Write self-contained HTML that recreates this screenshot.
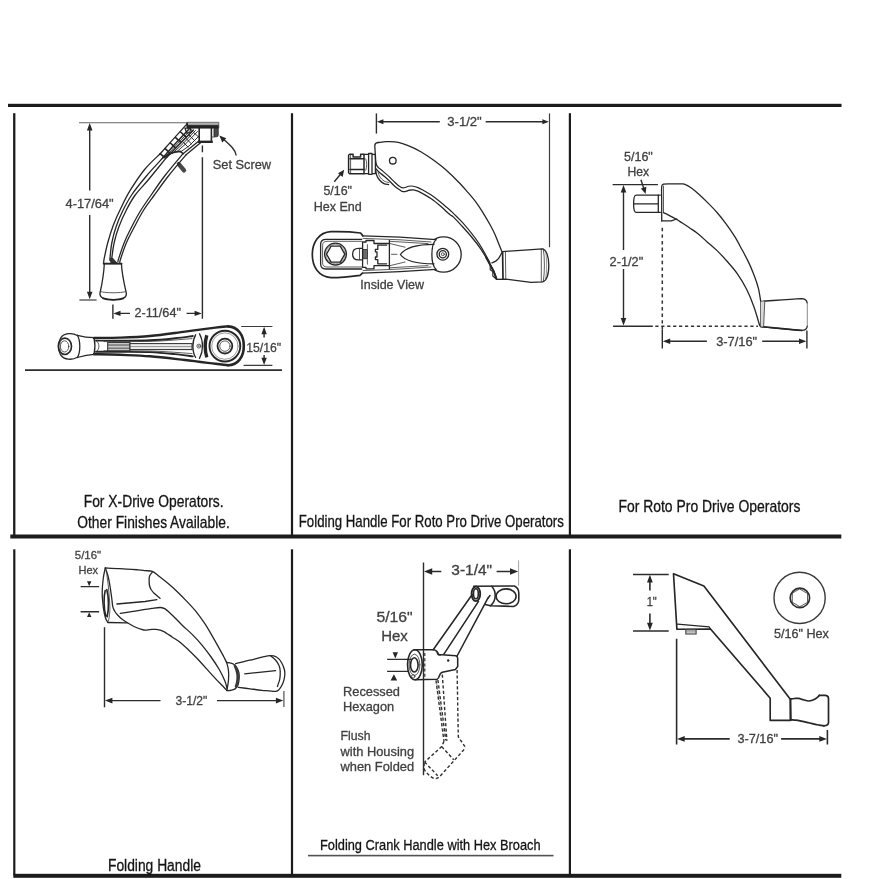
<!DOCTYPE html>
<html><head><meta charset="utf-8">
<style>
html,body{margin:0;padding:0;background:#fff;}
body{width:875px;height:879px;overflow:hidden;font-family:"Liberation Sans",sans-serif;}
svg{display:block;position:absolute;left:0;top:0;filter:blur(0.35px);}
text{font-family:"Liberation Sans",sans-serif;}
.t{fill:#414141;stroke:#414141;stroke-width:0.3px;}
.c{fill:#141414;stroke:#141414;stroke-width:0.3px;}
.d{stroke:#2c2c2c;stroke-width:1.4;fill:none;}
.e{stroke:#3c3c3c;stroke-width:1.2;fill:none;}
.o{stroke:#262626;stroke-width:1.3;fill:none;stroke-linejoin:round;stroke-linecap:round;}
.o2{stroke:#333;stroke-width:0.8;fill:none;stroke-linejoin:round;stroke-linecap:round;}
.o3{stroke:#555;stroke-width:0.6;fill:none;stroke-linejoin:round;stroke-linecap:round;}
.a{fill:#262626;stroke:none;}
#p5 .o{stroke-width:1.55;}
#p6 .d{stroke-width:1.6;}
.w{fill:#fff;}
</style></head>
<body>
<svg width="875" height="879" viewBox="0 0 875 879">
<!-- GRID -->
<g id="grid" fill="#1c1c1c">
<rect x="8" y="103.8" width="833.5" height="3.2"/>
<rect x="10.3" y="534.5" width="831" height="4"/>
<rect x="13.3" y="873.8" width="828" height="4"/>
<rect x="13.1" y="113.2" width="2.3" height="422"/>
<rect x="290.9" y="113.2" width="2.2" height="422"/>
<rect x="568.8" y="113.2" width="2.2" height="422"/>
<rect x="13.2" y="549.3" width="2.2" height="326"/>
<rect x="290.9" y="549.3" width="2.2" height="326"/>
<rect x="568.8" y="549.3" width="2.2" height="326"/>
</g>

<!-- CAPTIONS -->
<g id="captions">
<text class="c" font-size="16" transform="translate(83.7,506.6) scale(0.8652,1)">For X-Drive Operators.</text>
<text class="c" font-size="16" transform="translate(77.3,527.6) scale(0.8631,1)">Other Finishes Available.</text>
<text class="c" font-size="16" transform="translate(298.8,526.8) scale(0.8267,1)">Folding Handle For Roto Pro Drive Operators</text>
<text class="c" font-size="16" transform="translate(618.4,512.2) scale(0.8710,1)">For Roto Pro Drive Operators</text>
<text class="c" font-size="16" transform="translate(108,871.1) scale(0.8641,1)">Folding Handle</text>
<text class="c" font-size="15" transform="translate(320,850) scale(0.8543,1)">Folding Crank Handle with Hex Broach</text>
<rect x="308" y="854.8" width="245.5" height="1.6" fill="#525252"/>
</g>

<!-- P1: X-Drive handle -->
<g id="p1">
<!-- dims -->
<path class="e" d="M79 122.7 H186" style="stroke:#666;stroke-width:1.1"/>
<path class="e" d="M79.4 300 H96.6"/>
<path class="d" d="M89.7 128 V190.5 M89.7 215 V293"/>
<path class="a" d="M89.7 122.9 L92.5 130.5 H86.9 Z M89.7 299.3 L92.5 291.7 H86.9 Z"/>
<text class="t" font-size="13" transform="translate(65.5,207.6) scale(0.9894,1)">4-17/64"</text>
<path class="d" d="M202.4 145.4 V152.2 M202.4 157.3 V318.8"/>
<path class="d" d="M112.9 304.5 V318.8"/>
<path class="d" d="M118 313.4 H130 M186.6 313.4 H197"/>
<path class="a" d="M113.3 313.4 L120.5 310.7 V316.1 Z M201.8 313.4 L194.6 310.7 V316.1 Z"/>
<text class="t" font-size="13" transform="translate(134.4,317.1) scale(0.9759,1)">2-11/64"</text>
<!-- set screw label -->
<path class="d" d="M236.2 155.5 C235.5 149.5 230 145 221.5 137.5"/>
<path class="a" d="M219.3 135.6 L226.3 138.3 L222.3 142.5 Z"/>
<text class="t" font-size="13.4" transform="translate(212.7,168.5) scale(0.9569,1)">Set Screw</text>
<!-- hub -->
<defs><linearGradient id="pl" x1="0" y1="0" x2="0" y2="1"><stop offset="0" stop-color="#c8c8c8"/><stop offset="0.42" stop-color="#9a9a9a"/><stop offset="0.56" stop-color="#262626"/><stop offset="1" stop-color="#1c1c1c"/></linearGradient></defs>
<path d="M186.6 122.3 H218.8 V128.2 H187.2 Z" fill="url(#pl)" stroke="#3a3a3a" stroke-width="0.7"/>
<path d="M187 122.6 L187.6 127.6" stroke="#222" stroke-width="1.6" fill="none"/>
<path class="o" d="M199.2 128 V140.8 M211.4 128 V140.6" style="stroke-width:1.6"/>
<path d="M198 141.8 H212.8" stroke="#262626" stroke-width="2.4" fill="none"/>
<path d="M214 128.4 H218.2 V135 Q218.2 136.8 216.4 136.8 H214 Z" fill="#4a4a4a" stroke="#262626" stroke-width="0.9"/>
<path class="o2" d="M211.4 137 H214"/>
<!-- arm upper ribs -->
<path class="o" d="M186.6 124.4 L171 141.6 L160.2 153.7"/>
<path class="o" d="M190 128 L174.5 144.4 L162.9 157.8" style="stroke-width:1.5"/>
<path class="o" d="M193.4 130 L181 142.6 L166.6 157.4" style="stroke-width:1.5"/>
<path class="o" d="M191.6 129 L177.6 143.6 L164.8 157.6" style="stroke-width:0.9"/>
<path class="o" d="M164 157.4 C169 153.6 174.5 151.6 180.4 151.4 L183 153.7" style="stroke-width:1.6"/>
<path class="o" d="M185 128.2 H190.2 L191.4 132.4 L186.8 133.2 Z"/>
<path class="o" d="M180.6 132 L185.6 136.6 M175.6 137.6 L180.6 142.2 M170.4 143 L175.4 147.8 M165.2 148.6 L170.2 153.4 M160.2 153.7 L164.8 157.6" style="stroke-width:1.6"/>
<path class="o" d="M197.5 131.5 L185 144.5 L176.5 152 M195.4 130.6 L183 143.6 L172.5 153.4 M199 136 L189 146 L181 151.6" style="stroke-width:0.95"/>
<path class="o" d="M192 131 L198.6 137 M189 135 L195 141 M186 138.5 L191.6 144 M183 142 L188 147" style="stroke-width:0.95"/>
<path class="o" d="M199.2 140.8 L183 153.7 M200.8 142.6 L185.8 155.1"/>
<!-- small screw -->
<path d="M179.2 164.6 L184 170.4" stroke="#484848" stroke-width="4.4" stroke-linecap="round" fill="none"/>
<path d="M177.5 162.5 L179.5 165" stroke="#333" stroke-width="2.4" fill="none"/>
<!-- arm curves -->
<path class="o" stroke="#4a4a4a" d="M160.2 153.7 C157.6 156.3 149.6 163.3 144.6 169.5 C139.6 175.7 134.0 184.2 130.0 190.7 C126.0 197.2 123.4 202.9 120.6 208.7 C117.8 214.4 115.4 219.6 113.3 225.2 C111.2 230.8 109.3 236.9 107.8 242.5 C106.3 248.1 104.8 255.5 104.1 259.0 C103.4 262.5 103.8 262.8 103.7 263.6"/>
<path class="o"  d="M162.9 157.8 C160.1 160.9 151.2 170.3 146.0 176.5 C140.8 182.7 135.5 189.2 131.6 195.0 C127.7 200.8 125.0 206.2 122.4 211.5 C119.8 216.8 117.8 221.8 116.0 227.0 C114.2 232.2 112.9 237.5 111.9 242.5 C110.9 247.5 110.4 254.2 110.1 257.2 C109.8 260.2 110.0 259.9 110.0 260.5"/>
<path class="o"  d="M166.6 157.4 C163.7 161.0 154.2 172.7 149.0 179.0 C143.8 185.3 139.0 189.8 135.2 195.0 C131.4 200.2 128.8 205.2 126.1 210.5 C123.4 215.8 120.8 221.7 118.8 227.0 C116.8 232.3 115.3 237.5 114.2 242.5 C113.1 247.5 112.3 254.2 111.9 257.2 C111.5 260.2 111.7 259.9 111.7 260.5"/>
<path class="o"  d="M183.0 153.7 C180.0 157.3 170.3 168.6 165.0 175.5 C159.7 182.4 155.2 189.2 151.2 195.0 C147.1 200.8 144.0 205.2 140.7 210.5 C137.4 215.8 134.3 221.7 131.6 227.0 C128.9 232.3 126.4 237.3 124.3 242.5 C122.2 247.7 119.9 254.9 118.8 258.1 C117.7 261.4 118.0 261.4 117.8 262.0"/>
<path class="o"  d="M185.8 155.1 C182.8 158.7 173.2 169.8 168.0 176.5 C162.8 183.2 158.5 189.3 154.4 195.0 C150.3 200.7 146.8 205.2 143.4 210.5 C140.1 215.8 137.1 221.7 134.3 227.0 C131.5 232.3 128.8 237.2 126.5 242.5 C124.2 247.8 121.7 255.7 120.6 259.0 C119.5 262.3 119.9 261.9 119.8 262.5"/>
<path d="M110 258.5 L111 263 L117 263 L112.5 258 Z" fill="#333" stroke="#262626" stroke-width="0.8"/><path class="o" d="M103.6 263.6 H121.6" style="stroke-width:1.8"/>
<!-- knob -->
<path class="o" d="M104.3 263.7 H121.4 C122 275 124.5 285 126.3 293 C127 297.5 123 299.6 113.2 299.6 C103.4 299.6 99.4 297.5 100 293 C101.8 285 103.8 275 104.3 263.7 Z"/>
<path class="o2" d="M100.6 291.6 C106 293.2 120 293.2 125.8 291.6"/>
<path d="M102.5 298.2 C108 300.4 118.5 300.4 124 298.2" stroke="#222" stroke-width="1.8" fill="none"/>
<!-- bottom view -->
<path class="d" d="M25 370.2 H282" style="stroke-width:1.7"/>
<path class="e" d="M241.2 326.5 H272.4 M243.6 365.4 H272.4"/>
<path class="d" d="M264.1 332 V337.6 M264.1 355 V360"/>
<path class="a" d="M264.1 326.8 L266.8 334.2 H261.4 Z M264.1 365.1 L266.8 357.7 H261.4 Z"/>
<text class="t" font-size="13" transform="translate(246.2,351.5) scale(0.9420,1)">15/16"</text>
<!-- knob end -->
<path class="o" d="M77.4 335.5 C72.5 332.5 64 332.7 60.6 338 C57.8 343 57.8 350 60.6 354.8 C64 360.1 72.5 360.3 77.4 357.3"/>
<path class="o" d="M77.4 335.3 C80.6 341 80.6 352 77.4 357.5"/>
<path class="o" d="M77.4 335.3 C84 337.2 90 337.7 94 337.7 M77.4 357.5 C84 355.5 90 354.5 94 354.3"/>
<ellipse cx="64.9" cy="346.3" rx="6.6" ry="8.2" fill="none" stroke="#262626" stroke-width="1.6"/>
<ellipse cx="64.6" cy="346.4" rx="4.2" ry="5.6" class="o2"/>
<path class="o3" d="M62 337.5 C59.6 342.5 59.6 350.5 62 355.2"/>
<!-- neck end -->
<path class="o" d="M94 337.7 C95.2 343 95.2 349 94 354.3"/>
<path class="o2" d="M96 340.5 C100 343 100 349.5 96 352"/>
<!-- arms -->
<path class="o" style="stroke-width:2.4" d="M94.0 338.0 C98.3 337.9 110.7 337.9 120.0 337.6 C129.3 337.3 139.2 337.0 150.0 336.0 C160.8 335.0 174.1 333.0 185.0 331.6 C195.9 330.2 208.2 328.5 215.4 327.6 C222.6 326.7 225.9 326.6 228.0 326.4"/>
<path class="o" style="stroke-width:2.4" d="M94.0 354.2 C98.3 354.3 110.7 354.4 120.0 354.8 C129.3 355.2 139.2 355.4 150.0 356.3 C160.8 357.2 174.1 358.8 185.0 360.0 C195.9 361.2 208.2 362.9 215.4 363.8 C222.6 364.7 225.9 365.1 228.0 365.3"/>
<path class="o" style="stroke-width:1.9" d="M96.0 340.6 C100.0 340.6 111.0 340.7 120.0 340.6 C129.0 340.6 140.8 340.7 150.0 340.3 C159.2 339.9 167.9 339.0 175.0 338.3 C182.1 337.6 189.8 336.4 192.8 336.0"/>
<path class="o" style="stroke-width:1.9" d="M96.0 351.8 C100.0 351.8 111.0 351.8 120.0 351.8 C129.0 351.9 140.8 351.7 150.0 352.1 C159.2 352.5 167.9 353.4 175.0 354.1 C182.1 354.8 189.8 356.0 192.8 356.4"/>
<path class="o2"  d="M104.0 341.6 C108.3 341.6 120.7 341.7 130.0 341.6 C139.3 341.5 149.7 341.5 160.0 341.0 C170.3 340.5 186.7 339.0 192.0 338.6"/>
<path class="o2"  d="M104.0 350.8 C108.3 350.8 120.7 350.7 130.0 350.8 C139.3 350.9 149.7 350.9 160.0 351.4 C170.3 351.9 186.7 353.2 192.0 353.6"/>
<!-- central bar -->
<rect x="107.7" y="342.4" width="22.3" height="8.4" fill="#c9c9c9" stroke="#2a2a2a" stroke-width="1"/>
<path class="o2" d="M108 345 H130 M108 348.2 H130"/>
<rect x="130" y="343.6" width="62" height="6" fill="#ececec" stroke="#2a2a2a" stroke-width="1"/>
<path class="o3" d="M130 346.6 H192"/>
<!-- cross piece -->
<path class="o" d="M195.6 334.8 C192 341 192 351.5 195.6 357.4"/>
<path class="o" d="M199.5 333.8 C203.5 341 203.5 351 199.5 358.4"/>
<circle cx="198.9" cy="346.1" r="2" class="o2"/>
<circle cx="198.9" cy="346.1" r="0.8" fill="#333"/>
<path d="M206.8 335.2 C204.8 342 204.8 350.5 206.8 357.4" stroke="#262626" stroke-width="3.4" fill="none"/>
<!-- hub -->
<path class="o" stroke-width="2.6" d="M228 326.4 C238 327 243.8 335 243.8 346 C243.8 357 238 364.8 228 365.3" style="stroke-width:2.6"/>
<circle cx="224.9" cy="346.1" r="15.4" class="o" style="stroke-width:1.9"/>
<circle cx="224.9" cy="346.1" r="13.2" class="o3"/>
<circle cx="224.9" cy="346.1" r="7.4" fill="none" stroke="#262626" stroke-width="1.8"/>
<circle cx="224.9" cy="346.1" r="5.2" class="o2"/>
</g>

<!-- P2: Folding handle Roto Pro -->
<g id="p2">
<!-- dims -->
<path class="d" d="M376.4 113.4 V133.6"/>
<path class="e" d="M549.5 113.4 V247.2"/>
<path class="d" d="M382 121.8 H439.8 M485.7 121.8 H543"/>
<path class="a" d="M376.9 121.8 L383.4 119.3 V124.3 Z M548.9 121.8 L542.4 119.3 V124.3 Z"/>
<text class="t" font-size="13" transform="translate(447.3,126.3) scale(1.0073,1)">3-1/2"</text>
<!-- hex label -->
<path class="d" d="M334.3 181.7 L341.5 173"/>
<path class="a" d="M344.2 169.8 L342.6 177 L338 173.2 Z"/>
<text class="t" font-size="12.5" transform="translate(323.4,195.4) scale(0.9937,1)">5/16"</text>
<text class="t" font-size="12.5" transform="translate(313.7,211.4) scale(1.0010,1)">Hex End</text>
<text class="t" font-size="12.5" transform="translate(360.2,289) scale(1.0015,1)">Inside View</text>
<!-- hex end -->
<path class="o" d="M348.6 155.2 L349.6 154.3 H353.1 V157.1 H360.6 V154.3 H364 V173.7 H349.6 L348.6 172.8 Z" stroke-width="1.4" style="stroke-width:1.5"/>
<path class="o" d="M350 158.8 H364 M350 169.4 H364" style="stroke-width:1.5"/><path class="o2" d="M350.6 155 V173"/>
<path class="o" d="M364 154.3 H368.6 V173.7 H364 M368.6 153.5 H372 V174.3 H368.6 Z M372 154.3 H375.4 V173.7 H372"/>
<path class="o2" d="M365.8 158.9 C367 162 367 167 365.8 170.3"/>
<!-- handle body -->
<path class="o" d="M378.4 167.6 C376.6 166 375.8 164 375.6 160 L374.8 146 Q374.7 142.9 378 142.5"/>
<path class="o"  d="M378.0 142.5 C379.3 142.4 383.2 141.8 386.0 141.7 C388.8 141.6 392.0 141.5 395.0 141.9 C398.0 142.3 401.1 143.1 404.1 144.1 C407.2 145.1 410.2 146.4 413.3 147.8 C416.4 149.2 419.3 151.0 422.4 152.8 C425.4 154.6 428.6 156.7 431.6 158.8 C434.7 160.9 437.7 163.2 440.7 165.6 C443.7 168.0 446.8 170.6 449.8 173.4 C452.9 176.2 455.9 179.3 459.0 182.5 C462.1 185.7 465.2 189.3 468.1 192.6 C471.0 195.9 473.6 198.9 476.1 202.3 C478.7 205.8 481.1 209.6 483.4 213.3 C485.7 217.0 487.8 220.7 489.8 224.3 C491.8 228.0 493.8 231.8 495.3 235.2 C496.8 238.5 497.9 241.7 499.0 244.4 C500.1 247.1 501.2 250.1 501.7 251.2"/>
<path class="o"  d="M375.8 168.6 C376.4 169.2 378.1 171.2 379.5 172.5 C380.9 173.8 382.7 174.9 384.5 176.5 C386.3 178.1 388.6 180.1 390.3 181.8 C392.1 183.5 393.4 185.3 395.0 186.6 C396.6 187.9 398.4 189.0 399.6 189.8 C400.8 190.6 401.2 191.0 402.0 191.3 C402.8 191.6 403.4 191.7 404.1 191.7 C404.9 191.7 405.7 191.4 406.5 191.2 C407.3 191.0 407.6 190.5 408.7 190.3 C409.8 190.1 411.8 189.7 413.3 189.8 C414.9 190.0 416.5 190.6 418.0 191.2 C419.5 191.8 420.1 192.2 422.4 193.5 C424.7 194.8 428.6 196.9 431.6 199.0 C434.7 201.1 437.7 203.7 440.7 206.3 C443.7 208.9 447.7 212.7 449.8 214.5 C451.9 216.3 451.2 214.9 453.3 216.9 C455.4 218.9 459.3 223.2 462.4 226.5 C465.4 229.8 468.6 233.3 471.6 237.0 C474.7 240.7 478.0 244.9 480.7 248.9 C483.4 252.9 485.9 257.1 488.0 260.8 C490.1 264.5 492.1 268.0 493.5 270.9 C494.9 273.8 495.9 277.1 496.4 278.4"/>
<path class="o" style="stroke-width:1.15" d="M378.4 167.6 C379.2 168.3 381.5 170.0 383.4 171.6 C385.2 173.2 387.6 175.2 389.5 177.0 C391.4 178.8 393.2 180.8 395.0 182.5 C396.8 184.2 399.0 186.2 400.5 187.1 C402.0 188.0 402.7 188.0 404.1 187.8 C405.5 187.7 407.2 186.5 408.7 186.2 C410.2 185.9 411.8 186.0 413.3 186.2 C414.9 186.4 416.5 187.0 418.0 187.6 C419.5 188.2 420.1 188.5 422.4 189.8 C424.7 191.1 428.6 193.2 431.6 195.3 C434.7 197.4 437.7 199.8 440.7 202.2 C443.7 204.6 447.7 208.2 449.8 210.0 C451.9 211.8 451.2 211.2 453.3 213.3 C455.4 215.4 459.3 219.1 462.4 222.4 C465.4 225.8 468.9 229.9 471.6 233.4 C474.4 236.9 476.8 240.2 478.9 243.4 C481.0 246.6 482.6 249.4 484.4 252.6 C486.2 255.8 488.9 260.9 489.8 262.6"/>
<circle cx="392.8" cy="160.7" r="3.3" class="o"/>
<!-- housing bump under hex -->
<path class="o"  d="M375.6 169.0 C375.8 170.0 376.0 173.2 376.6 175.0 C377.2 176.8 378.3 178.6 379.5 180.0 C380.7 181.4 382.5 182.8 384.0 183.6 C385.5 184.4 387.8 184.4 388.6 184.6"/>
<path class="o2"  d="M378.0 172.0 C378.3 172.8 379.0 175.5 380.0 177.0 C381.0 178.5 382.5 180.1 384.0 181.0 C385.5 181.9 388.2 182.3 389.0 182.6"/>
<!-- neck -->
<path class="o"  d="M502.4 251.8 C502.1 252.3 501.2 253.9 500.6 255.0 C500.0 256.1 499.4 257.4 498.6 258.4 C497.8 259.4 497.1 260.1 496.0 260.9 C494.9 261.6 492.7 262.6 492.0 262.9"/>
<path class="o" d="M490.2 265.4 V269.8 L492.8 271.6 V276 L496.2 279" style="stroke-width:1.1"/>
<path class="o" d="M486.2 257.6 L488 260.8 L493.5 270.9 L496.4 278.6" style="stroke-width:2"/>
<!-- knob -->
<path class="o" d="M502.4 251.6 L542.6 248.8 C546.6 250 548.8 257 548.8 265 C548.8 273.5 546.6 280.6 542.6 281.9 L531 282.3 L505.6 279.1 L496.6 279.4"/>
<path class="o" d="M502.6 251.8 L503 279.2" style="stroke-width:1.7"/>
<path class="o2" d="M505.4 251.5 L505.8 279.2"/>
<path class="o2" d="M541.3 249 V282 M543.3 248.9 C544.8 258 544.8 272 543.3 281.8"/>
<path class="o3" d="M545.6 250.5 C547 259 547 271 545.6 280.2"/>
<!-- inside view -->
<!-- right boss (behind) -->
<circle cx="443.6" cy="254.5" r="17.6" class="o"/>
<!-- arms (white filled to hide boss) -->
<path d="M362.9 235.9 L436 239.6 L448 246 L448 263 L436 269.4 L362.4 273.2 Z" fill="#fff" stroke="none"/>
<path class="o" d="M362.9 235.9 L400 237.2 L436 239.6 M362.4 273.2 L400 271.6 L436 269.4"/>
<path class="o2" d="M363 238.4 L400 239.8 L431 242 M363 270.6 L400 269 L431 267"/>
<path class="o2" d="M389.4 241.3 L428 243.6 M389.4 267.8 L428 265.6"/>
<!-- head outer -->
<path class="o" d="M362.9 235.9 L360.6 233 C350 231.6 340 231.5 330.9 231.7 C319 232.4 312.3 242 312.3 254.6 C312.3 267.2 319 277 330.9 277.6 C340 277.7 350 276.6 360 275.3 L362.4 273.2" style="stroke-width:1.7"/>
<!-- head inner -->
<path class="o" d="M361.7 239.3 H326 C322.6 239.3 320.6 241.3 320.6 244.6 V263.7 C320.6 267 322.6 269 326 269 H361.7"/>
<path class="o2" d="M361.7 241.3 H327 C324 241.3 322.6 242.7 322.6 245.6 V262.7 C322.6 265.6 324 267 327 267 H361.7"/>
<circle cx="335.5" cy="254.1" r="10.9" class="o"/>
<circle cx="335.5" cy="254.1" r="9.7" class="o3"/>
<path class="o" d="M326.5 254.1 L331.1 246.1 H340.2 L344.8 254.1 L340.2 262.1 H331.1 Z"/>
<!-- dome -->
<path class="o" d="M362.3 248.4 H358.5 C354.5 248.4 352.6 251 352.6 254.2 C352.6 257.4 354.5 259.9 358.5 259.9 H362.3"/>
<rect x="362.6" y="249.6" width="4.8" height="9.1" fill="#777" stroke="#2a2a2a" stroke-width="0.9"/>
<path class="o3" d="M364 249.8 V258.5 M365.8 249.8 V258.5"/>
<path class="o2" d="M359.5 249 V259.4"/>
<!-- mechanism -->
<path class="o" d="M362.6 242 V267.3 M362.6 242 H366 V240.5 H374 V243.5 H389.4 M362.6 267.3 H366 V268.8 H374 V265.6 H389.4"/>
<path class="o" d="M389.4 240.4 V268.8"/>
<path class="o" d="M386.6 245.2 H377.8 V249.4 H375.4 V251.8 H377 V257 H375.4 V259.6 H377.8 V263.8 H386.6"/>
<path class="o2" d="M367.4 244.6 V248.6 M367.4 259.6 V264.2"/>
<path class="o2" d="M391.5 254.3 H397"/>
<!-- tongue -->
<path class="o" d="M434 244.3 C420 244.3 406 246.5 400.4 254.5 C406 262.5 420 263.8 434 263.8"/>
<path class="o2" d="M389.4 243.4 L405 247.2 M389.4 265.8 L405 262"/>
<path class="o" d="M436 239.6 C430.5 245 430.5 264 436 269.4"/>
<!-- boss circles -->
<circle cx="442.8" cy="254.2" r="5.9" class="o"/>
<circle cx="442.8" cy="254.2" r="3.6" class="o"/>
<circle cx="442.8" cy="254.2" r="1.5" class="o2"/>
</g>

<!-- P3: Roto Pro handle -->
<g id="p3">
<text class="t" font-size="12.5" transform="translate(624,161.3) scale(1.0007,1)">5/16"</text>
<text class="t" font-size="12.5" transform="translate(627.4,176.3) scale(0.9760,1)">Hex</text>
<path class="d" d="M640.9 179.8 L644.3 190"/>
<path class="a" d="M645.6 194 L640.9 188.6 L646.4 186.8 Z"/>
<path class="d" d="M612.6 184.6 H657.9" stroke-width="1.4"/>
<path class="d" d="M613.1 326.2 H652.8" stroke-width="1.4"/>
<path class="d" d="M623.5 190 V250 M623.5 269 V319"/>
<path class="a" d="M623.5 184.9 L626.3 192.4 H620.7 Z M623.5 325.6 L626.3 318.1 H620.7 Z"/>
<text class="t" font-size="12.5" transform="translate(609.6,265.9) scale(1.0201,1)">2-1/2"</text>
<!-- dotted -->
<path d="M662.3 227.8 V329" stroke="#333" stroke-width="1.5" stroke-dasharray="3.4 3.2" fill="none"/>
<path d="M655.3 326.2 H758" stroke="#333" stroke-width="1.6" stroke-dasharray="3.2 2.74" fill="none"/>
<!-- horiz dim -->
<path class="d" d="M662.3 329.3 V348.6 M806.9 330.5 V348.6"/>
<path class="d" d="M668 341.3 H706.9 M762.2 341.3 H801"/>
<path class="a" d="M662.8 341.3 L670.2 338.5 V344.1 Z M806.4 341.3 L799 338.5 V344.1 Z"/>
<text class="t" font-size="12.5" transform="translate(716.2,345.6) scale(1.0278,1)">3-7/16"</text>
<!-- hex stub -->
<path class="o" d="M660.3 195.1 H636 C634.2 195.3 633.6 197 633.6 203.8 C633.6 210.5 634.2 212.2 636 212.4 H660.3"/>
<path class="o" d="M634 203.8 H658.3 M658.3 195.1 V212.4"/>
<!-- body -->
<path class="o"  d="M661.7 220.9 C661.7 217.4 661.7 205.7 661.7 200.0 C661.7 194.3 661.4 189.6 661.7 187.0 C662.0 184.4 661.8 184.7 663.5 184.2 C665.2 183.7 668.9 183.9 672.0 183.9 C675.1 183.9 680.0 183.8 682.3 183.9 C684.5 184.0 684.0 183.9 685.5 184.6 C687.0 185.2 688.9 186.3 691.0 187.8 C693.1 189.3 695.6 191.3 698.3 193.7 C701.0 196.1 704.3 199.3 707.4 202.4 C710.5 205.5 713.5 208.5 716.6 212.0 C719.7 215.5 722.7 219.3 725.7 223.4 C728.7 227.5 732.1 232.3 734.8 236.7 C737.5 241.1 739.8 245.6 742.1 249.8 C744.4 254.0 746.4 257.8 748.4 261.9 C750.4 266.0 752.2 270.3 753.9 274.7 C755.6 279.1 757.3 284.0 758.4 288.4 C759.5 292.8 760.3 299.1 760.7 301.2"/>
<path class="o2" d="M663.5 186 V212.5"/>
<path class="o" d="M661.7 220.9 H671.3 L676.8 219"/>
<path class="o"  d="M663.5 212.7 C664.6 213.2 667.8 214.7 670.0 215.8 C672.2 216.9 675.1 218.5 676.8 219.5 C678.5 220.5 678.0 220.3 680.0 221.6 C682.0 222.9 686.1 225.4 689.1 227.5 C692.1 229.6 695.2 231.5 698.3 233.9 C701.3 236.3 704.3 239.4 707.4 242.2 C710.5 244.9 713.5 247.2 716.8 250.4 C720.1 253.6 723.6 257.3 727.0 261.2 C730.4 265.1 734.1 269.1 737.4 273.8 C740.7 278.5 743.9 283.8 746.6 289.3 C749.4 294.8 751.7 300.6 753.9 306.7 C756.1 312.8 758.8 322.7 759.8 325.9"/>
<!-- knob -->
<path class="o" d="M807.2 303 C806.8 300 805 298.6 801.4 298.6 C790 299.2 775 300.4 760.9 301.4 V326.6 C775 327.8 790 329.6 802 330.4 C805.4 330.4 807 328.8 807.3 326"/>
<path d="M807.3 303 V326" stroke="#8a8a8a" stroke-width="1" fill="none"/>
<path class="o" d="M761 326.6 C775 327.9 790 329.7 802 330.5" style="stroke-width:1.7"/>
<path d="M760.9 301.4 L764.8 301.2 L763.6 326.8 L760.9 326.6 Z" fill="#d8d8d8" stroke="none"/><path class="o2" d="M764.8 301.2 L763.6 326.9"/>
</g>

<!-- P4: Folding handle -->
<g id="p4">
<text class="t" font-size="11.5" transform="translate(74.8,559.1) scale(0.9936,1)">5/16"</text>
<text class="t" font-size="11.5" transform="translate(78.5,573.5) scale(0.9583,1)">Hex</text>
<path class="d" d="M80.6 586.6 H99.1 M80.6 611.8 H99.1" stroke-width="1.4"/>
<path class="a" d="M89.2 586.2 L91.4 581.2 H87 Z M89.2 612.2 L91.4 617 H87 Z"/>
<!-- dim -->
<path class="d" d="M104.5 627.2 V707.3"/><path class="d" d="M283.9 691.1 V707.1" style="stroke:#6a6a6a"/>
<path class="d" d="M110 700.6 H160.5 M217 700.6 H278"/>
<path class="a" d="M105 700.6 L112.4 697.8 V703.4 Z M283.3 700.6 L275.9 697.8 V703.4 Z"/>
<text class="t" font-size="12.5" transform="translate(175.5,704.6) scale(0.9655,1)">3-1/2"</text>
<!-- head face -->
<path class="o"  d="M105.3 568.0 C105.0 569.7 103.8 573.8 103.3 578.0 C102.8 582.2 102.2 588.0 102.2 593.0 C102.2 598.0 102.9 603.8 103.4 608.0 C104.0 612.2 104.7 615.6 105.5 618.0 C106.3 620.4 107.6 621.8 108.0 622.5"/>
<path class="o"  d="M105.3 568.0 C105.8 569.3 107.2 573.0 108.0 576.0 C108.8 579.0 109.4 582.6 110.0 586.1 C110.6 589.6 111.1 593.6 111.6 597.0 C112.1 600.4 112.3 604.4 112.8 606.7 C113.3 609.0 113.8 609.6 114.6 611.0 C115.4 612.4 116.4 613.7 117.6 615.0 C118.8 616.3 120.1 617.7 121.5 618.8 C122.9 619.9 123.7 620.5 125.8 621.8 C127.9 623.1 131.0 625.1 134.0 626.5 C137.0 627.9 141.0 629.5 143.7 630.0 C146.4 630.5 147.9 629.7 150.0 629.6 C152.1 629.5 153.8 629.1 156.0 629.4 C158.2 629.7 160.6 630.0 163.3 631.3 C166.0 632.6 169.8 635.5 172.4 637.2 C175.0 638.9 176.4 639.4 179.1 641.5 C181.8 643.6 185.2 646.8 188.3 649.7 C191.4 652.6 194.4 655.6 197.4 658.8 C200.4 662.0 203.6 665.5 206.6 668.9 C209.6 672.2 213.0 676.0 215.7 678.9 C218.4 681.8 221.2 684.3 223.0 686.2 C224.8 688.1 226.1 689.7 226.7 690.4"/>
<path class="o2"  d="M106.5 572.0 C106.8 574.3 107.8 581.3 108.3 586.0 C108.8 590.7 109.2 595.7 109.5 600.0 C109.8 604.3 110.0 608.5 109.8 612.0 C109.6 615.5 108.7 619.5 108.5 621.0"/>
<path d="M105.2 590.5 C103.6 597 103.6 608 105.8 616 M106.8 589.5 C108.8 597 109 609 107.2 616.8" class="o" style="stroke-width:1.6"/>
<path class="o" d="M108 622.5 L127.2 622.9"/>
<!-- top edge -->
<path class="o"  d="M105.3 568.0 C107.8 568.1 114.5 568.3 120.0 568.6 C125.5 568.9 133.8 569.5 138.0 569.8 C142.2 570.1 142.6 570.3 145.0 570.6 C147.4 570.9 150.0 570.5 152.3 571.4 C154.6 572.3 156.1 574.0 158.7 576.0 C161.3 578.0 164.8 580.7 167.9 583.3 C171.0 585.9 174.0 588.6 177.0 591.5 C180.0 594.4 183.0 597.4 186.1 600.6 C189.2 603.8 192.2 606.9 195.3 610.7 C198.4 614.5 201.7 619.1 204.5 623.2 C207.3 627.4 209.7 631.7 212.0 635.6 C214.3 639.5 216.4 643.3 218.4 646.9 C220.4 650.5 222.5 654.3 223.9 657.0 C225.3 659.7 225.9 660.6 226.7 662.9 C227.5 665.2 228.2 667.9 228.5 670.7 C228.8 673.5 228.7 676.7 228.5 679.8 C228.3 682.9 227.3 687.9 227.1 689.5"/>
<!-- top-right inner curve -->
<path class="o"  d="M152.2 572.4 C151.8 573.0 150.1 574.7 149.6 576.0 C149.1 577.3 149.1 578.3 149.1 580.0 C149.1 581.7 149.2 584.3 149.6 586.0 C150.0 587.7 150.7 588.8 151.4 590.0 C152.2 591.2 152.7 591.9 154.1 593.3 C155.5 594.7 159.1 597.5 160.1 598.4"/>
<!-- creases -->
<path class="o" d="M116.9 604 L145 601.5 L156.9 599.7"/>
<path class="o"  d="M120.3 613.3 C122.8 612.9 130.9 611.9 135.0 611.2 C139.1 610.6 142.2 609.9 145.0 609.4 C147.8 608.9 149.4 608.6 152.0 608.3 C154.6 608.0 158.3 607.4 160.5 607.5 C162.7 607.6 163.1 607.6 165.1 608.9 C167.1 610.2 169.6 612.7 172.4 615.3 C175.2 617.9 178.3 621.4 181.7 624.7 C185.1 628.0 189.5 631.7 192.9 635.1 C196.3 638.5 199.0 641.5 202.0 645.1 C205.0 648.8 208.2 652.9 211.1 657.0 C214.0 661.1 217.1 665.8 219.4 669.8 C221.7 673.8 223.5 677.7 224.8 680.8 C226.1 683.9 226.7 687.3 227.1 688.6"/>
<!-- collar -->
<path class="o"  d="M226.5 662.5 C227.1 662.5 228.9 662.5 230.0 662.8 C231.1 663.0 232.3 663.4 233.3 664.0 C234.3 664.6 235.3 665.4 236.0 666.3 C236.7 667.2 237.2 668.2 237.7 669.3 C238.2 670.4 238.7 671.7 238.9 673.0 C239.2 674.3 239.2 675.7 239.2 677.1 C239.2 678.5 239.1 680.0 238.8 681.5 C238.6 683.0 238.2 684.7 237.7 685.8 C237.2 686.9 236.5 687.6 235.8 688.2 C235.1 688.9 234.3 689.3 233.3 689.7 C232.3 690.1 231.1 690.4 230.0 690.5 C228.9 690.6 227.2 690.5 226.6 690.5"/>
<path class="o" style="stroke-width:2.6;stroke:#3a3a3a" d="M234.8 665.6 C235.1 666.3 236.1 668.4 236.5 669.8 C236.9 671.2 237.3 672.6 237.5 674.0 C237.7 675.4 237.8 676.6 237.7 678.0 C237.6 679.4 237.5 681.1 237.2 682.5 C236.9 683.9 236.2 685.9 236.0 686.6"/>
<!-- knob -->
<path class="o"  d="M235.6 663.6 C238.0 663.0 245.6 661.3 250.0 660.2 C254.4 659.1 258.6 658.0 262.0 657.2 C265.4 656.4 267.8 655.6 270.2 655.6 C272.6 655.6 274.6 655.9 276.5 657.0 C278.4 658.1 280.2 660.3 281.5 662.5 C282.8 664.7 284.0 667.8 284.5 670.0 C285.0 672.2 284.9 673.8 284.7 676.0 C284.4 678.2 283.9 680.9 283.0 683.0 C282.1 685.1 280.8 687.4 279.6 688.8 C278.4 690.2 278.5 691.1 275.6 691.4 C272.7 691.6 266.3 690.7 262.0 690.3 C257.7 689.9 253.9 689.3 250.0 688.8 C246.1 688.3 240.2 687.6 238.3 687.4"/>
<path class="o"  d="M270.2 655.6 C271.1 656.3 274.0 658.4 275.5 660.0 C277.0 661.6 278.2 663.7 279.0 665.5 C279.8 667.3 280.1 668.8 280.2 671.0 C280.3 673.2 280.3 676.4 279.8 679.0 C279.3 681.6 277.8 685.2 277.4 686.5"/>
<path class="o" d="M244.7 673.8 L275.6 670.7"/>
</g>

<!-- P5: Folding crank handle -->
<g id="p5">
<path class="d" d="M423.5 562.5 V775.2"/>
<path d="M518.6 560.4 V585.7" stroke="#9a9a9a" stroke-width="0.9" fill="none"/>
<path class="d" d="M430 571.5 H441.3 M496.6 571.5 H512" stroke-width="1.5" style="stroke-width:1.6"/>
<path class="a" d="M424 571.5 L432.2 568.2 V574.8 Z M518.2 571.5 L510 568.2 V574.8 Z"/>
<text class="t" font-size="14.3" transform="translate(451.3,575.3) scale(1.0830,1)">3-1/4"</text>
<text class="t" font-size="14.3" transform="translate(376.4,622.3) scale(1.1031,1)">5/16"</text>
<text class="t" font-size="14.3" transform="translate(381.2,641.2) scale(1.0496,1)">Hex</text>
<text class="t" font-size="12.6" transform="translate(343,695.6) scale(1.0176,1)">Recessed</text>
<text class="t" font-size="12.6" transform="translate(343,710.7) scale(1.0154,1)">Hexagon</text>
<text class="t" font-size="12.6" transform="translate(340.5,740.2) scale(0.9741,1)">Flush</text>
<text class="t" font-size="12.6" transform="translate(340.5,756) scale(1.0221,1)">with Housing</text>
<text class="t" font-size="12.6" transform="translate(340.5,770.5) scale(1.0218,1)">when Folded</text>
<path class="d" d="M387.1 659.4 H412 M387.1 671.4 H408.8"/>
<path class="a" d="M395.3 658.4 L398 652.2 H392.6 Z M393.9 674.2 L397.2 680.6 H390.6 Z"/>
<!-- grip -->
<path class="o" d="M473.6 586.3 L514.3 586 C517.5 587.5 518.8 590 518.8 593 V599.5 C518.8 603 517 605.3 513.7 606.4 L490.4 605.8 L485.4 604.5"/>
<path class="o" d="M491.7 586.3 C494.5 589.5 495.4 593 495.2 596 C495 600 493.2 603.5 490.4 605.8"/>
<ellipse cx="506.1" cy="596.3" rx="10" ry="7.4" class="o"/>
<ellipse cx="475.9" cy="593.8" rx="4.3" ry="7.3" fill="#fff" stroke="#262626" stroke-width="1.9"/>
<ellipse cx="475.9" cy="593.8" rx="2.4" ry="5" class="o"/>
<!-- arm -->
<path class="o" d="M472.2 594.5 L433.2 649.8 M478.5 601.4 L443.9 654.2 M487.9 598.2 L457.1 656"/>
<path class="o" d="M487.9 598.2 L490 595.6"/>
<!-- hub -->
<path class="o" d="M414.3 649.7 H433.1 C435.8 649.9 437.6 651.2 438.3 654.6 L456 655.7 C457.4 656.4 457.7 657.4 457.7 658.6 V666.6 L455.4 669.4 L442.3 672.3 C440.6 673 439.8 674.2 439.4 675.7 C439 677.6 438.4 678.8 437.1 679.3 L414.9 679.8"/>
<ellipse cx="414.9" cy="664.8" rx="7.4" ry="15" class="o"/>
<ellipse cx="414.5" cy="664.8" rx="5.4" ry="10.6" class="o2"/>
<ellipse cx="414.3" cy="664.9" rx="3.8" ry="7.1" class="o" style="stroke-width:1.6"/>
<circle cx="413.2" cy="676.3" r="1.7" class="o2"/>
<circle cx="448.2" cy="660.5" r="1.2" fill="#222"/>
<path d="M437.4 652.2 C437.5 654 438.5 655 440.4 654.9" class="o" style="stroke-width:1.6"/>
<path d="M424.8 653 V678.5" stroke="#333" stroke-width="1.2" stroke-dasharray="3 2.2" fill="none"/>
<!-- folded (dashed) -->
<g stroke="#303030" stroke-width="1.4" fill="none" stroke-dasharray="3.2 2.2">
<path d="M436 680.3 L444 741.4 M437.9 680 L445.8 740.3"/>
<path d="M442.3 674.6 L446.9 740.9"/>
<path d="M457.1 670 L458.3 736.9 L465.7 747.7"/>
<path d="M444 741.4 L441.7 746.6 L424.6 762 M424.3 763 C423.6 766.5 423.8 769 425.5 771.5 C428.5 775 432 778 434.5 778.6 C436.5 778.8 438 778 439.4 776.9 L465.7 747.7"/>
<path d="M441.7 746.6 L453.7 759.7 M424.6 762 L437.7 775.7"/>
</g>
<path class="o3" d="M436.2 684 L438.2 686 M436.7 689 L438.9 691 M437.4 694 L439.5 696 M438 699 L440.2 701 M438.7 704 L440.8 706 M439.4 709 L441.5 711 M440 714 L442.1 716 M440.7 719 L442.8 721 M441.3 724 L443.4 726 M442 729 L444.1 731 M442.6 734 L444.7 736"/>
</g>

<!-- P6: offset handle -->
<g id="p6">
<path class="d" d="M633 574.4 H668.7 M633 631 H668.7" stroke-width="1.5" style="stroke-width:1.5"/>
<path class="d" d="M649.9 580 V590.4 M649.9 613.5 V626"/>
<path class="a" d="M649.9 574.8 L652.8 582.6 H647 Z M649.9 630.6 L652.8 622.8 H647 Z"/>
<text class="t" font-size="12" transform="translate(646.7,605.9) scale(0.9234,1)">1"</text>
<!-- dim -->
<path class="d" d="M676.6 638.7 V744.5 M827.4 730 V744.5"/>
<path class="d" d="M683 738.9 H729.7 M781.1 738.9 H821.5"/>
<path class="a" d="M677.1 738.9 L684.7 736 V741.8 Z M826.9 738.9 L819.3 736 V741.8 Z"/>
<text class="t" font-size="12.5" transform="translate(737.5,743) scale(1.0153,1)">3-7/16"</text>
<!-- body -->
<path class="o" d="M676.9 629.3 L673.5 573.7 L703.9 586.1 L790.3 699.2 V720.4 H770.2 V698.2 L710.5 629 L676.9 629.3 Z" style="stroke-width:1.65"/>
<path class="o" d="M677.6 624.2 L709.1 626.8 L710.5 629"/>
<rect x="685.8" y="629.8" width="10.3" height="4.2" fill="#e2e2e2" stroke="#444" stroke-width="1.1"/>
<path class="o3" d="M686 631.9 H696"/>
<!-- knob -->
<g style="stroke-width:1.7">
<path class="o" style="stroke-width:1.7" d="M790.5 699.0 C791.2 698.9 793.1 698.6 794.5 698.5 C795.9 698.4 797.1 698.2 798.6 698.4 C800.1 698.6 801.9 699.4 803.5 699.8 C805.1 700.2 806.7 701.0 808.3 701.0 C809.9 701.0 811.5 700.6 813.0 700.0 C814.5 699.4 816.1 698.4 817.1 697.6 C818.1 696.8 818.9 695.8 819.3 695.4"/>
<path class="o" style="stroke-width:1.7" d="M819.3 695.3 H825.6 C827.6 695.5 828.5 696.6 828.5 698.4 V722.6 C828.5 724.6 826.8 725.8 823.8 725.8"/>
<path class="o" style="stroke-width:1.7" d="M823.8 725.8 C823.1 725.7 820.9 725.5 819.5 725.2 C818.1 725.0 817.4 724.7 815.5 724.3 C813.6 723.9 810.4 723.1 808.0 722.6 C805.6 722.1 803.2 721.5 801.1 721.1 C799.0 720.7 797.2 720.4 795.5 720.2 C793.8 720.0 791.7 719.9 790.9 719.8"/>
<path class="o" style="stroke-width:1.7" d="M790.5 699 L790.9 720"/>
</g>
<!-- circle -->
<circle cx="799.6" cy="597.9" r="25.6" fill="none" stroke="#3a3a3a" stroke-width="1.4"/>
<circle cx="799.9" cy="597.9" r="9.7" fill="none" stroke="#2e2e2e" stroke-width="1.7"/>
<path class="o2" d="M799.9 589.2 L807.5 593.5 V602.3 L799.9 606.7 L792.3 602.3 V593.5 Z"/>
<text class="t" font-size="12.5" transform="translate(773.9,638.4) scale(1.0098,1)">5/16" Hex</text>
</g>
</svg>
</body></html>
